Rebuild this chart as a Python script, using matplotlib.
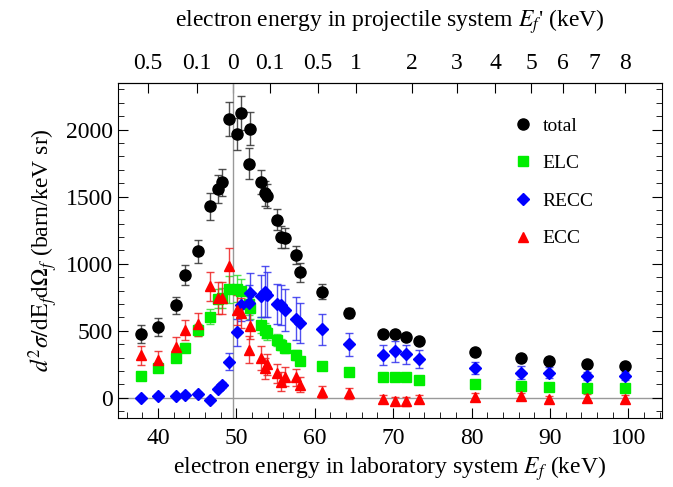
import matplotlib
matplotlib.use("Agg")
import matplotlib.pyplot as plt
from matplotlib.ticker import MultipleLocator

plt.rcParams['font.family'] = ['Liberation Serif', 'DejaVu Serif']
plt.rcParams['mathtext.fontset'] = 'stix'

# electron energy in lab system (keV)
energy = [37.8, 40.0, 42.3, 43.5, 45.1, 46.6, 47.7, 48.2, 49.1, 50.1, 50.6, 51.6, 51.8,
          53.2, 53.7, 53.9, 55.2, 55.7, 56.2, 57.6, 58.1, 60.9, 64.4, 68.7, 70.2, 71.6,
          73.3, 80.5, 86.3, 89.9, 94.7, 99.6]

total = [477, 527, 689, 918, 1092, 1428, 1557, 1607, 2080, 1970, 2124, 1746, 2007,
         1607, 1527, 1502, 1328, 1199, 1192, 1067, 935, 791, 632, 477, 477, 453,
         425, 343, 298, 274, 254, 234]
total_err = [66, 65, 66, 75, 85, 100, 105, 100, 127, 120, 125, 115, 122,
             90, 93, 90, 77, 80, 78, 67, 68, 56, 40, 20, 20, 20,
             18, 15, 12, 12, 10, 10]

elc = [160, 220, 300, 375, 505, 605, 740, 745, 810, 815, 795, 700, 670,
       545, 505, 480, 433, 396, 371, 321, 276, 241, 196, 159, 152, 152,
       134, 104, 90, 82, 75, 70]
elc_err = [20, 25, 30, 35, 45, 55, 70, 75, 100, 100, 95, 80, 80,
           60, 55, 50, 45, 40, 40, 35, 30, 25, 15, 10, 10, 10,
           10, 8, 8, 8, 8, 8]

recc = [0, 17, 15, 25, 32, -15, 65, 95, 271, 490, 690, 710, 780,
        760, 790, 770, 700, 690, 655, 590, 560, 510, 400, 321, 346, 326,
        289, 221, 189, 189, 164, 164]
recc_err = [10, 10, 10, 10, 10, 10, 15, 20, 60, 100, 120, 130, 150,
            155, 190, 170, 150, 150, 160, 160, 150, 118, 85, 75, 75, 70,
            65, 45, 45, 40, 30, 30]

ecc = [316, 279, 378, 507, 550, 831, 744, 744, 980, 657, 632, 360, 537,
       296, 221, 250, 184, 122, 159, 152, 97, 42, 35, -10, -20, -27,
       -10, 10, 15, -10, 2, -5]
ecc_err = [68, 68, 75, 75, 85, 110, 120, 120, 137, 110, 110, 100, 100,
           90, 80, 80, 70, 70, 70, 60, 55, 45, 40, 30, 30, 30,
           30, 25, 25, 25, 25, 25]

# top axis: projectile-frame energy labels at their lab-energy positions
top_pos = [38.7, 45.0, 49.6, 54.3, 60.4, 65.2, 72.4, 78.1, 83.0, 87.6, 91.7, 95.7, 99.6]
top_labels = ['0.5', '0.1', '0', '0.1', '0.5', '1', '2', '3', '4', '5', '6', '7', '8']
cusp = 49.6

fig = plt.figure(figsize=(6.73, 4.87), dpi=100)
ax = fig.add_axes([0.1753, 0.1417, 0.8084, 0.6885])

ax.axhline(0, color='#999999', lw=1, zorder=1)
ax.axvline(cusp, color='#999999', lw=1, zorder=1)

series = [
    (total, total_err, 'o', 'black', '#333333', 8, 'total'),
    (elc, elc_err, 's', '#00ee00', '#33dd33', 6.5, 'ELC'),
    (recc, recc_err, 'D', '#0000ff', '#3333ee', 6.5, 'RECC'),
    (ecc, ecc_err, '^', '#ff0000', '#ee2222', 7.5, 'ECC'),
]
for vals, err, mk, col, ecol, ms, lab in series:
    ax.errorbar(energy, vals, yerr=err, fmt='none', ecolor=ecol, elinewidth=1,
                capsize=3, capthick=1, alpha=0.85, zorder=2)
    ax.plot(energy, vals, mk, color=col, ms=ms, ls='none', label=lab, zorder=3)

ax.set_xlim(34.9, 104.3)
ax.set_ylim(-150, 2350)

ax.xaxis.set_major_locator(MultipleLocator(10))
ax.xaxis.set_minor_locator(MultipleLocator(2))
ax.yaxis.set_major_locator(MultipleLocator(500))
ax.yaxis.set_minor_locator(MultipleLocator(100))
ax.tick_params(which='both', direction='in', top=False, right=True, labelsize=17)
ax.tick_params(which='major', length=7)
ax.tick_params(which='minor', length=4)
ax.tick_params(axis='x', pad=7)

top = ax.secondary_xaxis('top')
top.set_xticks(top_pos)
top.set_xticklabels(top_labels)
top.tick_params(direction='in', length=7, labelsize=17, pad=6)
top.set_xlabel("electron energy in projectile system $E_f$' (keV)", fontsize=17, labelpad=19)

ax.set_xlabel('electron energy in laboratory system $E_f$ (keV)', fontsize=17, labelpad=4)
ax.set_ylabel(r'$d^2\sigma/\mathrm{dE}_f\mathrm{d}\Omega_f$ (barn/keV sr)', fontsize=17, labelpad=4)

ax.legend(loc='upper left', bbox_to_anchor=(0.695, 0.95), frameon=False, numpoints=1,
          fontsize=14, labelspacing=1.03, handlelength=1.0, handletextpad=0.5)

fig.savefig('out.png', dpi=100)
